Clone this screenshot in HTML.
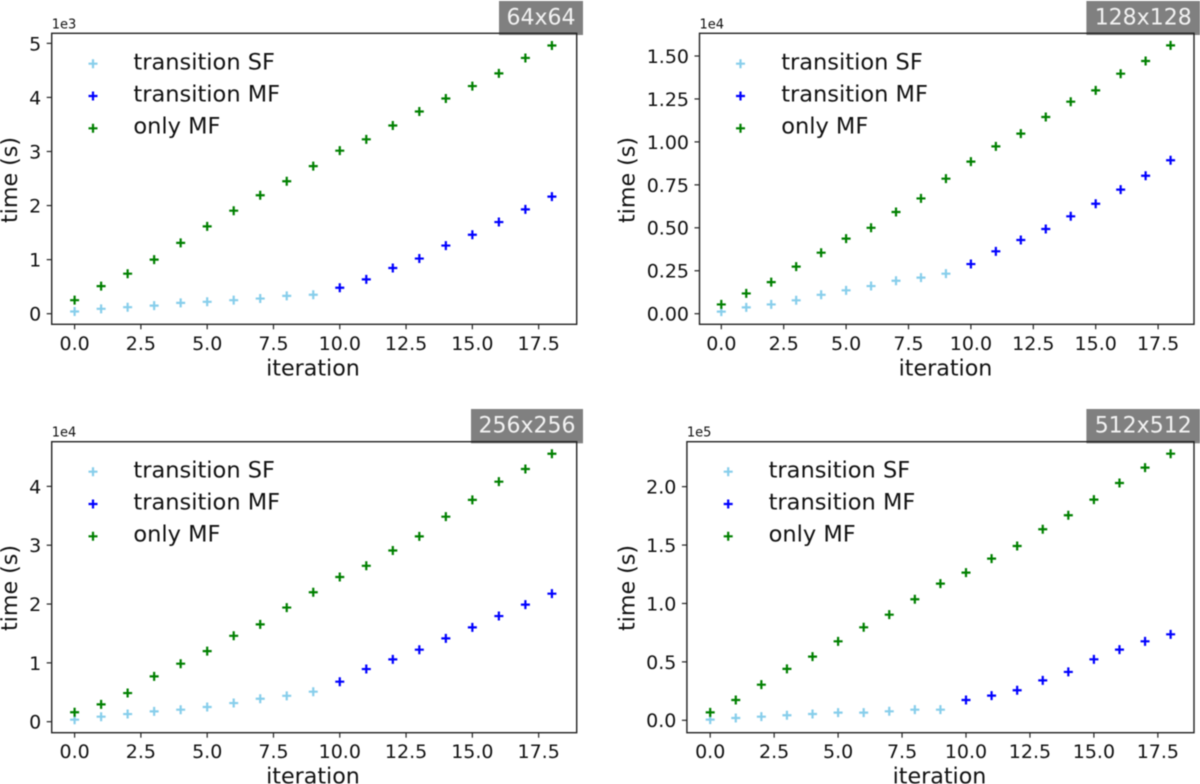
<!DOCTYPE html>
<html lang="en">
<head>
<meta charset="utf-8">
<title>Time per iteration by resolution</title>
<style>
  html, body { margin: 0; padding: 0; background: #fff; }
  body { width: 1200px; height: 784px; overflow: hidden; }
  svg { display: block; filter: blur(0.45px); }
  text { font-family: "DejaVu Sans", "Liberation Sans", sans-serif; fill: #111; }
  .tick { font-size: 19px; }
  .legend { font-size: 22.5px; }
  .title { font-size: 22.2px; }
  .offset { font-size: 13px; }
  .badge { font-size: 22px; fill: #f2f2f2; text-anchor: middle; }
  .spine { fill: none; stroke: #222; stroke-width: 1.4; }
</style>
</head>
<body>
<svg id="figure" width="1200" height="784" viewBox="0 0 1200 784" xmlns="http://www.w3.org/2000/svg">

  <g id="panel-64">
    <rect x="51.7" y="33.3" width="525" height="291" fill="#fff"/>
    <g class="marks"></g>
    <text class="offset" x="51.7" y="28.7">1e3</text>
    <text class="title" x="313" y="375.6" text-anchor="middle">iteration</text>
    <text class="title" transform="translate(17 180) rotate(-90)" text-anchor="middle">time (s)</text>
    <g>
      <path d="M88.5 63.7h9M93 59.2v9" stroke="#87ceeb" stroke-width="2.2"/>
      <text class="legend" x="133.4" y="69.3">transition SF</text>
      <path d="M88.5 96h9M93 91.5v9" stroke="#0000ff" stroke-width="2.2"/>
      <text class="legend" x="133.4" y="101.3">transition MF</text>
      <path d="M88.5 128.3h9M93 123.8v9" stroke="#008000" stroke-width="2.2"/>
      <text class="legend" x="133.4" y="133.5">only MF</text>
    </g>
    <rect x="499" y="1" width="84" height="34" fill="#808080"/>
    <text class="badge" x="541" y="24.5">64x64</text>
    <rect class="spine" x="51.7" y="33.3" width="525" height="291"/>
  </g>

  <g id="panel-128">
    <rect x="699.5" y="33.3" width="494.5" height="291" fill="#fff"/>
    <g class="marks"></g>
    <text class="offset" x="699.5" y="28.7">1e4</text>
    <text class="title" x="945.5" y="375.6" text-anchor="middle">iteration</text>
    <text class="title" transform="translate(634.5 180) rotate(-90)" text-anchor="middle">time (s)</text>
    <g>
      <path d="M736 63.7h9M740.5 59.2v9" stroke="#87ceeb" stroke-width="2.2"/>
      <text class="legend" x="781.2" y="69.3">transition SF</text>
      <path d="M736 96h9M740.5 91.5v9" stroke="#0000ff" stroke-width="2.2"/>
      <text class="legend" x="781.2" y="101.3">transition MF</text>
      <path d="M736 128.3h9M740.5 123.8v9" stroke="#008000" stroke-width="2.2"/>
      <text class="legend" x="781.2" y="133.5">only MF</text>
    </g>
    <rect x="1086.4" y="1" width="113.6" height="34" fill="#808080"/>
    <text class="badge" x="1143.2" y="24.5">128x128</text>
    <rect class="spine" x="699.5" y="33.3" width="494.5" height="291"/>
  </g>

  <g id="panel-256">
    <rect x="51.7" y="441.7" width="525" height="291" fill="#fff"/>
    <g class="marks"></g>
    <text class="offset" x="51.7" y="436.7">1e4</text>
    <text class="title" x="313" y="783.6" text-anchor="middle">iteration</text>
    <text class="title" transform="translate(17 588) rotate(-90)" text-anchor="middle">time (s)</text>
    <g>
      <path d="M88.5 471.7h9M93 467.2v9" stroke="#87ceeb" stroke-width="2.2"/>
      <text class="legend" x="133.4" y="477.3">transition SF</text>
      <path d="M88.5 504h9M93 499.5v9" stroke="#0000ff" stroke-width="2.2"/>
      <text class="legend" x="133.4" y="509.3">transition MF</text>
      <path d="M88.5 536.3h9M93 531.8v9" stroke="#008000" stroke-width="2.2"/>
      <text class="legend" x="133.4" y="541.5">only MF</text>
    </g>
    <rect x="471" y="409" width="112" height="34.3" fill="#808080"/>
    <text class="badge" x="527" y="432.5">256x256</text>
    <rect class="spine" x="51.7" y="441.7" width="525" height="291"/>
  </g>

  <g id="panel-512">
    <rect x="686.9" y="441.7" width="507.1" height="291" fill="#fff"/>
    <g class="marks"></g>
    <text class="offset" x="686.9" y="436.7">1e5</text>
    <text class="title" x="939.5" y="783.6" text-anchor="middle">iteration</text>
    <text class="title" transform="translate(634.5 588) rotate(-90)" text-anchor="middle">time (s)</text>
    <g>
      <path d="M723.7 471.7h9M728.2 467.2v9" stroke="#87ceeb" stroke-width="2.2"/>
      <text class="legend" x="768.6" y="477.3">transition SF</text>
      <path d="M723.7 504h9M728.2 499.5v9" stroke="#0000ff" stroke-width="2.2"/>
      <text class="legend" x="768.6" y="509.3">transition MF</text>
      <path d="M723.7 536.3h9M728.2 531.8v9" stroke="#008000" stroke-width="2.2"/>
      <text class="legend" x="768.6" y="541.5">only MF</text>
    </g>
    <rect x="1086.4" y="409" width="113.6" height="34.3" fill="#808080"/>
    <text class="badge" x="1143.2" y="432.5">512x512</text>
    <rect class="spine" x="686.9" y="441.7" width="507.1" height="291"/>
  </g>
</svg>

<script>
// Shared tick labels and categories
const xTickLabels = ['0.0', '2.5', '5.0', '7.5', '10.0', '12.5', '15.0', '17.5'];
const sfIterations = [0, 1, 2, 3, 4, 5, 6, 7, 8, 9];
const mfIterations = [10, 11, 12, 13, 14, 15, 16, 17, 18];
const onlyIterations = [0, 1, 2, 3, 4, 5, 6, 7, 8, 9, 10, 11, 12, 13, 14, 15, 16, 17, 18];

// 64x64 (values in units of 1e3 s)
const yTickLabels64 = ['0', '1', '2', '3', '4', '5'];
const transitionSF64 = [0.04, 0.09, 0.12, 0.15, 0.2, 0.22, 0.25, 0.28, 0.33, 0.35];
const transitionMF64 = [0.48, 0.635, 0.845, 1.02, 1.26, 1.46, 1.695, 1.93, 2.165];
const onlyMF64 = [0.25, 0.51, 0.74, 1.0, 1.31, 1.615, 1.905, 2.19, 2.45, 2.73, 3.015, 3.225, 3.48, 3.74, 3.98, 4.21, 4.445, 4.73, 4.96];

// 128x128 (values in units of 1e4 s)
const yTickLabels128 = ['0.00', '0.25', '0.50', '0.75', '1.00', '1.25', '1.50'];
const transitionSF128 = [0.012, 0.037, 0.054, 0.078, 0.11, 0.136, 0.161, 0.192, 0.21, 0.233];
const transitionMF128 = [0.289, 0.363, 0.429, 0.493, 0.567, 0.64, 0.722, 0.803, 0.893];
const onlyMF128 = [0.054, 0.118, 0.184, 0.274, 0.355, 0.437, 0.5, 0.592, 0.671, 0.786, 0.885, 0.974, 1.048, 1.145, 1.234, 1.3, 1.397, 1.471, 1.562];

// 256x256 (values in units of 1e4 s)
const yTickLabels256 = ['0', '1', '2', '3', '4'];
const transitionSF256 = [0.034, 0.085, 0.13, 0.176, 0.204, 0.25, 0.317, 0.39, 0.44, 0.51];
const transitionMF256 = [0.68, 0.895, 1.06, 1.224, 1.416, 1.603, 1.796, 1.99, 2.176];
const onlyMF256 = [0.16, 0.295, 0.487, 0.77, 0.986, 1.2, 1.46, 1.654, 1.94, 2.2, 2.46, 2.65, 2.91, 3.15, 3.485, 3.77, 4.08, 4.295, 4.555];

// 512x512 (values in units of 1e5 s)
const yTickLabels512 = ['0.0', '0.5', '1.0', '1.5', '2.0'];
const transitionSF512 = [0.006, 0.02, 0.031, 0.043, 0.054, 0.066, 0.066, 0.077, 0.091, 0.091];
const transitionMF512 = [0.174, 0.211, 0.257, 0.342, 0.414, 0.522, 0.605, 0.676, 0.736];
const onlyMF512 = [0.068, 0.174, 0.305, 0.44, 0.545, 0.676, 0.796, 0.904, 1.036, 1.17, 1.264, 1.384, 1.492, 1.635, 1.755, 1.889, 2.031, 2.163, 2.282];

const SVG_NS = 'http://www.w3.org/2000/svg';
const COLOR_SF = '#87ceeb';
const COLOR_MF = '#0000ff';
const COLOR_ONLY = '#008000';

function drawPanel(id, geom, yTickLabels, sf, mf, only) {
  const layer = document.querySelector('#' + id + ' .marks');
  const xScale = function (v) { return geom.x0 + v * geom.xUnit; };
  const yScale = function (v) { return geom.y0 - v * geom.yUnit; };

  xTickLabels.forEach(function (label) {
    const value = parseFloat(label);
    const px = xScale(value);
    const tick = document.createElementNS(SVG_NS, 'line');
    
    
    tick.setAttribute('x1', px);
    tick.setAttribute('x2', px);
    tick.setAttribute('y1', geom.bottom);
    tick.setAttribute('y2', geom.bottom + 5);
    tick.setAttribute('stroke', '#222');
    tick.setAttribute('stroke-width', '1.2');
    layer.appendChild(tick);
    const text = document.createElementNS(SVG_NS, 'text');
    
    
    text.setAttribute('class', 'tick');
    text.setAttribute('x', px);
    text.setAttribute('y', geom.bottom + 25.5);
    text.setAttribute('text-anchor', 'middle');
    text.textContent = label;
    layer.appendChild(text);
  });

  yTickLabels.forEach(function (label) {
    const value = parseFloat(label);
    const py = yScale(value);
    const tick = document.createElementNS(SVG_NS, 'line');
    
    
    tick.setAttribute('x1', geom.left - 5);
    tick.setAttribute('x2', geom.left);
    tick.setAttribute('y1', py);
    tick.setAttribute('y2', py);
    tick.setAttribute('stroke', '#222');
    tick.setAttribute('stroke-width', '1.2');
    layer.appendChild(tick);
    const text = document.createElementNS(SVG_NS, 'text');
    
    
    text.setAttribute('class', 'tick');
    text.setAttribute('x', geom.left - 10.5);
    text.setAttribute('y', py + 6.9);
    text.setAttribute('text-anchor', 'end');
    text.textContent = label;
    layer.appendChild(text);
  });

  function drawSeries(name, xs, ys, color) {
    xs.forEach(function (x, i) {
      const px = xScale(x);
      const py = yScale(ys[i]);
      const mark = document.createElementNS(SVG_NS, 'path');
      
      
      mark.setAttribute('d', 'M' + (px - 4.5) + ' ' + py + 'h9M' + px + ' ' + (py - 4.5) + 'v9');
      mark.setAttribute('stroke', color);
      mark.setAttribute('stroke-width', '2.2');
      mark.setAttribute('fill', 'none');
      layer.appendChild(mark);
    });
  }
  drawSeries('transition-sf', sfIterations, sf, COLOR_SF);
  drawSeries('transition-mf', mfIterations, mf, COLOR_MF);
  drawSeries('only-mf', onlyIterations, only, COLOR_ONLY);
}

drawPanel('panel-64',
  { x0: 74.6, xUnit: 26.517, y0: 313.7, yUnit: 54.07, left: 51.7, bottom: 324.3 },
  yTickLabels64, transitionSF64, transitionMF64, onlyMF64);
drawPanel('panel-128',
  { x0: 721.3, xUnit: 24.96, y0: 313.7, yUnit: 171.8, left: 699.5, bottom: 324.3 },
  yTickLabels128, transitionSF128, transitionMF128, onlyMF128);
drawPanel('panel-256',
  { x0: 74.6, xUnit: 26.517, y0: 721.7, yUnit: 58.83, left: 51.7, bottom: 732.7 },
  yTickLabels256, transitionSF256, transitionMF256, onlyMF256);
drawPanel('panel-512',
  { x0: 710.2, xUnit: 25.58, y0: 720.3, yUnit: 116.83, left: 686.9, bottom: 732.7 },
  yTickLabels512, transitionSF512, transitionMF512, onlyMF512);
</script>
</body>
</html>
